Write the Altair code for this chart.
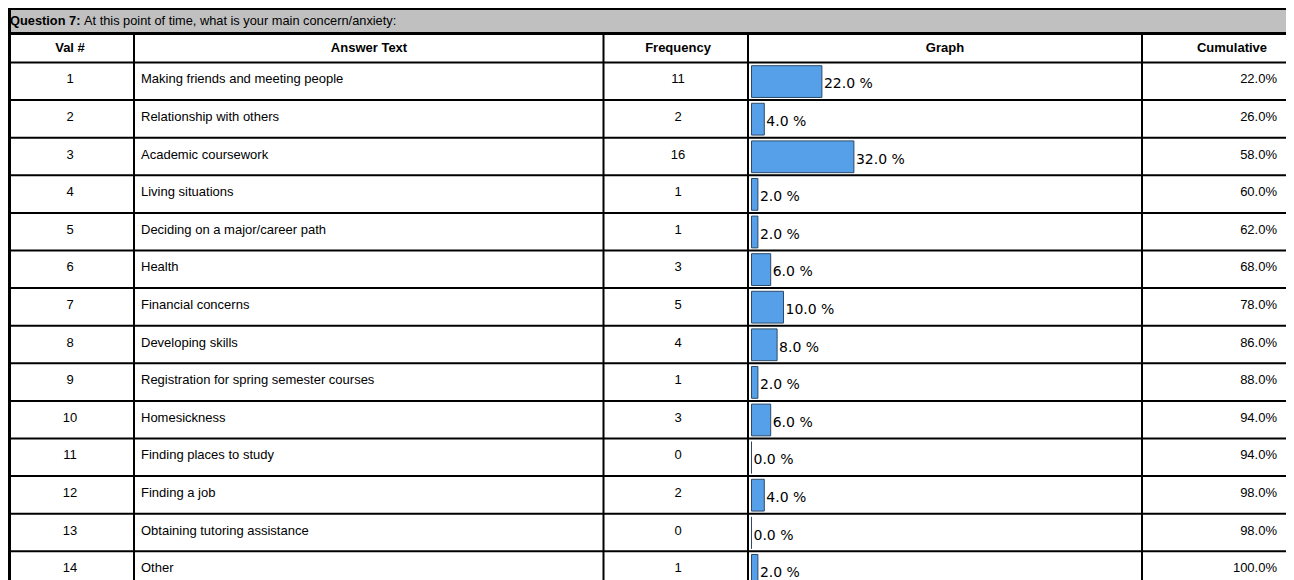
import altair as alt
import pandas as pd

# ---------------- data ----------------
val_nums = list(range(1, 15))
answers = [
    "Making friends and meeting people",
    "Relationship with others",
    "Academic coursework",
    "Living situations",
    "Deciding on a major/career path",
    "Health",
    "Financial concerns",
    "Developing skills",
    "Registration for spring semester courses",
    "Homesickness",
    "Finding places to study",
    "Finding a job",
    "Obtaining tutoring assistance",
    "Other",
]
frequencies = [11, 2, 16, 1, 1, 3, 5, 4, 1, 3, 0, 2, 0, 1]
percents = [22.0, 4.0, 32.0, 2.0, 2.0, 6.0, 10.0, 8.0, 2.0, 6.0, 0.0, 4.0, 0.0, 2.0]
cumulative = [22.0, 26.0, 58.0, 60.0, 62.0, 68.0, 78.0, 86.0, 88.0, 94.0, 94.0, 98.0, 98.0, 100.0]

question_label = "Question 7:"
question_text = "At this point of time, what is your main concern/anxiety:"
headers = ["Val #", "Answer Text", "Frequency", "Graph", "Cumulative"]

# ---------------- table ----------------
df = pd.DataFrame({
    "val": val_nums,
    "answer": answers,
    "freq": frequencies,
    "pct": percents,
    "cum": cumulative,
})
df["val_s"] = df["val"].astype(str)
df["freq_s"] = df["freq"].astype(str)
df["pct_s"] = df["pct"].map(lambda v: f"{v:.1f} %")
df["cum_s"] = df["cum"].map(lambda v: f"{v:.1f}%")

deco = pd.DataFrame({"k": [0]})

W, H = 1278, 572
FONT = "Liberation Sans"

ROW_TOP = 54.5
ROW_H = 37.6
yscale = alt.Scale(domain=[0, 14], range=[ROW_TOP, ROW_TOP + 14 * ROW_H])
xbar = alt.Scale(domain=[0, 100], range=[743.5, 743.5 + 320])

base = alt.Chart(df).transform_calculate(
    row="datum.val - 1",
    mid="datum.val - 0.5",
    btop="datum.val - 1 + 0.085",
    bbot="datum.val - 1 + 0.93",
    zero="0",
)

layers = []

# grey question band
layers.append(alt.Chart(deco).mark_rect(color="#C0C0C0").encode(
    x=alt.value(3), x2=alt.value(W), y=alt.value(2), y2=alt.value(24)))

# row separator lines
layers.append(base.mark_rule(color="black", strokeWidth=2).encode(
    y=alt.Y("row:Q", scale=yscale, axis=None),
    x=alt.value(0), x2=alt.value(W)))

# borders
layers.append(alt.Chart(deco).mark_rule(color="black", strokeWidth=2).encode(
    y=alt.value(1), x=alt.value(0), x2=alt.value(W)))
layers.append(alt.Chart(deco).mark_rule(color="black", strokeWidth=3).encode(
    y=alt.value(25.5), x=alt.value(0), x2=alt.value(W)))
layers.append(alt.Chart(deco).mark_rule(color="black", strokeWidth=3).encode(
    x=alt.value(1.5), y=alt.value(0), y2=alt.value(H)))
for cx in [126, 595.5, 740, 1134]:
    layers.append(alt.Chart(deco).mark_rule(color="black", strokeWidth=2).encode(
        x=alt.value(cx), y=alt.value(26), y2=alt.value(H)))

# question text
layers.append(alt.Chart(deco).mark_text(
    text=question_label, font=FONT, fontSize=12.8, fontWeight="bold",
    align="left", baseline="middle", color="black").encode(
    x=alt.value(2), y=alt.value(13)))
layers.append(alt.Chart(deco).mark_text(
    text=question_text, font=FONT, fontSize=12.8,
    align="left", baseline="middle", color="black").encode(
    x=alt.value(76), y=alt.value(13)))

# header texts
header_x = [62, 361, 670, 937, 1224]
for htxt, hx in zip(headers, header_x):
    layers.append(alt.Chart(deco).mark_text(
        text=htxt, font=FONT, fontSize=13, fontWeight="bold",
        align="center", baseline="middle", color="black").encode(
        x=alt.value(hx), y=alt.value(40)))

# bars
layers.append(base.mark_bar(color="#55A0E8", stroke="#2E4A66", strokeWidth=1).encode(
    x=alt.X("zero:Q", scale=xbar, axis=None),
    x2="pct:Q",
    y=alt.Y("btop:Q", scale=yscale, axis=None),
    y2="bbot:Q"))

# percent labels
layers.append(base.mark_text(font="DejaVu Sans", fontSize=14, align="left",
                             baseline="middle", dx=2, dy=3, color="black").encode(
    x=alt.X("pct:Q", scale=xbar, axis=None),
    y=alt.Y("mid:Q", scale=yscale, axis=None),
    text="pct_s:N"))

# val #
layers.append(base.mark_text(font=FONT, fontSize=13, align="center",
                             baseline="middle", dy=-2, color="black").encode(
    x=alt.value(62), y=alt.Y("mid:Q", scale=yscale, axis=None), text="val_s:N"))
# answer text
layers.append(base.mark_text(font=FONT, fontSize=13, align="left",
                             baseline="middle", dy=-2, color="black").encode(
    x=alt.value(133), y=alt.Y("mid:Q", scale=yscale, axis=None), text="answer:N"))
# frequency
layers.append(base.mark_text(font=FONT, fontSize=13, align="center",
                             baseline="middle", dy=-2, color="black").encode(
    x=alt.value(670), y=alt.Y("mid:Q", scale=yscale, axis=None), text="freq_s:N"))
# cumulative
layers.append(base.mark_text(font=FONT, fontSize=13, align="right",
                             baseline="middle", dy=-2, color="black").encode(
    x=alt.value(1269), y=alt.Y("mid:Q", scale=yscale, axis=None), text="cum_s:N"))

chart = alt.layer(*layers).properties(
    width=W, height=H, padding=0, autosize="none"
).configure_view(stroke=None).configure(background="white")

chart.save("out.html", embed_options={"renderer": "svg", "actions": False})
